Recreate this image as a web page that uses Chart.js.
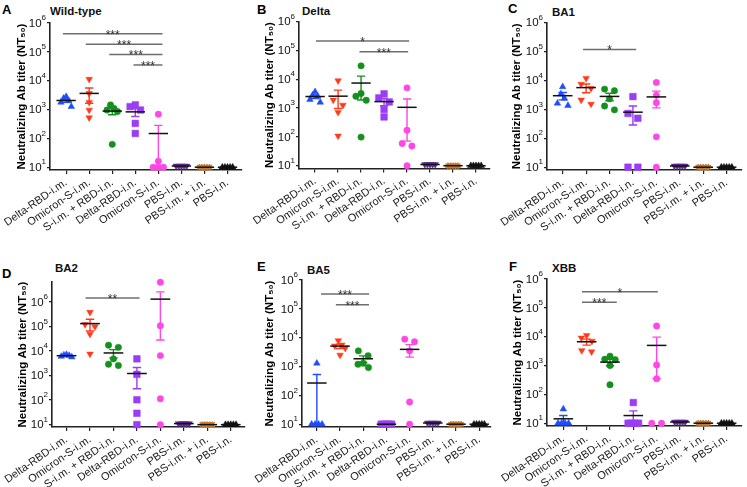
<!DOCTYPE html>
<html>
<head>
<meta charset="utf-8">
<script src="https://cdn.jsdelivr.net/npm/chart.js@4.4.1/dist/chart.umd.min.js"></script>
<style>
  body { margin: 0; background: #fff; }
  #fig { position: relative; width: 747px; height: 487px; overflow: hidden; font-family: 'Liberation Sans', Arial, sans-serif; }
  #fig canvas { position: absolute; }
  .letter { position: absolute; font-weight: bold; font-size: 13px; line-height: 13px; color: #000; }
  .title { position: absolute; font-weight: bold; font-size: 11.5px; line-height: 12px; color: #111; }
</style>
</head>
<body>
<div id="fig"></div>
<script>
// Groups (x categories)
var groups = ['Delta-RBD-i.m.', 'Omicron-S-i.m.', 'S-i.m. + RBD-i.n.', 'Delta-RBD-i.n.', 'Omicron-S-i.n.', 'PBS-i.m.', 'PBS-i.m. + i.n.', 'PBS-i.n.'];

// y axis ticks (10^n)
var yTickValues = [10, 100, 1000, 10000, 100000, 1000000];
var yTickExponents = ['1', '2', '3', '4', '5', '6'];

var panelLetters = ['A', 'B', 'C', 'D', 'E', 'F'];
var panelTitles = ['Wild-type', 'Delta', 'BA1', 'BA2', 'BA5', 'XBB'];
var yAxisTitle = 'Neutralizing Ab titer (NT\u2085\u2080)';

// NT50 per mouse, one row per group
var wildTypeTiters = [
    [2800, 2450, 2000, 1780, 1260],
    [11200, 3640, 1780, 960, 520],
    [1450, 1100, 960, 850, 62],
    [1450, 1260, 960, 330, 148],
    [690, 16, 10, 10, 10],
    [11, 11, 11, 11, 11],
    [10, 10, 10, 10, 10],
    [10, 10, 10, 10, 10]
];
var deltaTiters = [
    [3650, 2770, 2560, 1960, 1580],
    [8900, 1900, 1260, 710, 107],
    [29000, 3200, 2560, 1860, 98],
    [3100, 2240, 1620, 890, 490],
    [5000, 170, 59, 48, 10],
    [11, 11, 11, 11, 11],
    [10, 10, 10, 10, 10],
    [10, 10, 10, 10, 10]
];
var ba1Titers = [
    [6000, 3400, 2400, 1620, 1350],
    [11800, 7400, 5300, 2100, 1520],
    [5000, 4400, 2300, 1300, 960],
    [2750, 720, 490, 10, 10],
    [8500, 3100, 1700, 112, 10],
    [11, 11, 11, 11, 11],
    [10, 10, 10, 10, 10],
    [10, 10, 10, 10, 10]
];
var ba2Titers = [
    [7200, 6800, 6500, 6000, 5700],
    [380000, 121000, 98000, 49000, 7600],
    [17300, 14100, 4800, 2900, 2560],
    [4800, 1120, 103, 29, 10],
    [6400000, 107000, 6500, 113, 10],
    [11, 11, 11, 11, 11],
    [10, 10, 10, 10, 10],
    [10, 10, 10, 10, 10]
];
var ba5Titers = [
    [1300, 10, 10, 10, 10],
    [7900, 5600, 5200, 4300, 2500],
    [3500, 2350, 1300, 1200, 930],
    [10, 10, 10, 10, 10],
    [8900, 7200, 3500, 59, 10],
    [11, 11, 11, 11, 11],
    [10, 10, 10, 10, 10],
    [10, 10, 10, 10, 10]
];
var xbbTiters = [
    [31, 10, 10, 10, 10],
    [11000, 9000, 7000, 3300, 3000],
    [2100, 1650, 1600, 1000, 215],
    [52, 10, 10, 10, 10],
    [23500, 1050, 350, 10, 10],
    [11, 11, 11, 11, 11],
    [10, 10, 10, 10, 10],
    [10, 10, 10, 10, 10]
];

// significance bars: [from group, to group, titer level, label]
var wildTypeSig = [[-0.14, 4.18, 427000, '***'], [0.85, 4.18, 182000, '***'], [1.87, 4.18, 81000, '***'], [2.92, 4.18, 35000, '***']];
var deltaSig = [[0.04, 4.09, 210000, '*'], [1.93, 4.05, 89000, '***']];
var ba1Sig = [[0.87, 3.14, 117000, '*']];
var ba2Sig = [[0.81, 3.11, 1450000, '**']];
var ba5Sig = [[0.18, 2.25, 330000, '***'], [0.82, 2.25, 140000, '***']];
var xbbSig = [[0.8, 4.05, 360000, '*'], [0.8, 2.29, 155000, '***']];

var allTiters = [wildTypeTiters, deltaTiters, ba1Titers, ba2Titers, ba5Titers, xbbTiters];
var allSig = [wildTypeSig, deltaSig, ba1Sig, ba2Sig, ba5Sig, xbbSig];

// styles
var groupColors = ['#1f4cff', '#ff3a1a', '#14901c', '#9b3df5', '#ff47e6', '#5a2a8c', '#c27a32', '#111111'];
var groupShapes = ['triangle', 'triangle', 'circle', 'rect', 'circle', 'triangle', 'star', 'triangle'];
var groupRotation = [0, 180, 0, 0, 0, 180, 0, 0];
var groupRadius = [3.8, 3.8, 3.2, 4.7, 3.2, 3.8, 3.2, 3.8];
var fontFamily = "'Liberation Sans', Arial, sans-serif";

// canvas box, plot area (page px), y-title padding, x range, letter and title positions
var panelBoxes = [
    {canvas: [0, 0, 247, 240], area: [50, 23, 247, 170], padL: 11, xMin: -0.7, xMax: 7.62, yMax: 1e6, letter: [2, 3], title: [50, 4.5]},
    {canvas: [247, 0, 248, 240], area: [299, 21.5, 495, 168.5], padL: 12, xMin: -0.7, xMax: 7.6, yMax: 1e6, letter: [257, 3], title: [302, 4.5]},
    {canvas: [495, 0, 252, 240], area: [547, 22.5, 745, 170], padL: 11, xMin: -0.67, xMax: 7.65, yMax: 1e6, letter: [508, 2], title: [552, 5.5]},
    {canvas: [0, 240, 250, 247], area: [52, 282, 250, 427], padL: 12, xMin: -0.62, xMax: 7.6, yMax: 6.5e6, letter: [2, 267], title: [55, 261.5]},
    {canvas: [250, 240, 246, 247], area: [302, 280, 495, 427], padL: 9, xMin: -0.64, xMax: 7.5, yMax: 1e6, letter: [257, 260], title: [307, 263.5]},
    {canvas: [496, 240, 251, 247], area: [547, 279, 745, 426], padL: 11, xMin: -0.7, xMax: 7.65, yMax: 1e6, letter: [509, 260], title: [552, 261.5]}
];

// spread points that sit at nearly the same height, like a column scatter
function spreadOffsets(vals)
{
    var order = vals.map(function (v, i) { return i; }).sort(function (a, b) { return vals[b] - vals[a]; });
    var offs = vals.map(function () { return 0; });
    var cluster = [];
    function flush() {
        var k = cluster.length;
        if (k > 1) {
            var s = Math.min(0.42, 0.45 / (k - 1));
            var slots = (k % 2) ? [0, -1, 1, -2, 2, -3, 3] : [-0.5, 0.5, -1.5, 1.5, -2.5, 2.5];
            cluster.forEach(function (id, j) { offs[id] = slots[j] * s; });
        }
        cluster = [];
    }
    order.forEach(function (id) {
        if (cluster.length && Math.log10(vals[cluster[cluster.length - 1]]) - Math.log10(vals[id]) >= 0.2) flush();
        cluster.push(id);
    });
    flush();
    return offs;
}

function makeDecorPlugin(titers, sig)
{
    return {
        id: 'decor',
        afterDatasetsDraw: function (chart) {
            var ctx = chart.ctx, x = chart.scales.x, y = chart.scales.y, area = chart.chartArea;
            ctx.save();
            // mean +/- SEM
            titers.forEach(function (vals, i) {
                var n = vals.length;
                var mean = vals.reduce(function (a, v) { return a + v; }, 0) / n;
                var sd = Math.sqrt(vals.reduce(function (a, v) { return a + (v - mean) * (v - mean); }, 0) / (n - 1));
                var sem = sd / Math.sqrt(n);
                var cx = x.getPixelForValue(i);
                if (sem > 0) {
                    var top = y.getPixelForValue(mean + sem);
                    var low = mean - sem;
                    var bottom = low > y.min ? y.getPixelForValue(low) : area.bottom;
                    var cw = x.getPixelForValue(i + 0.18) - cx;
                    ctx.strokeStyle = groupColors[i];
                    ctx.lineWidth = 1.4;
                    ctx.beginPath();
                    ctx.moveTo(cx, top); ctx.lineTo(cx, bottom);
                    ctx.moveTo(cx - cw, top); ctx.lineTo(cx + cw, top);
                    if (low > y.min) { ctx.moveTo(cx - cw, bottom); ctx.lineTo(cx + cw, bottom); }
                    ctx.stroke();
                }
                var mw = x.getPixelForValue(i + 0.42) - cx;
                var my = y.getPixelForValue(mean);
                ctx.strokeStyle = '#111';
                ctx.lineWidth = 1.5;
                ctx.beginPath();
                ctx.moveTo(cx - mw, my); ctx.lineTo(cx + mw, my);
                ctx.stroke();
            });
            // significance bars
            sig.forEach(function (s) {
                var x0 = x.getPixelForValue(s[0]), x1 = x.getPixelForValue(s[1]), py = y.getPixelForValue(s[2]);
                ctx.strokeStyle = '#6e6e6e';
                ctx.lineWidth = 1.5;
                ctx.beginPath();
                ctx.moveTo(x0, py); ctx.lineTo(x1, py);
                ctx.stroke();
                ctx.fillStyle = '#333';
                ctx.font = '12px ' + fontFamily;
                ctx.textAlign = 'center';
                ctx.textBaseline = 'alphabetic';
                ctx.fillText(s[3], (x0 + x1) / 2, py + 5);
            });
            ctx.restore();
        },
        afterDraw: function (chart) {
            // y tick labels as 10 with a raised exponent
            var ctx = chart.ctx, y = chart.scales.y, area = chart.chartArea;
            ctx.save();
            ctx.fillStyle = '#111';
            ctx.textBaseline = 'middle';
            yTickValues.forEach(function (v, k) {
                var py = y.getPixelForValue(v);
                var xr = area.left - 4;
                ctx.font = '8px ' + fontFamily;
                var ew = ctx.measureText(yTickExponents[k]).width;
                ctx.textAlign = 'left';
                ctx.fillText(yTickExponents[k], xr - ew, py - 5);
                ctx.font = '11.5px ' + fontFamily;
                ctx.textAlign = 'right';
                ctx.fillText('10', xr - ew, py + 0.5);
            });
            ctx.restore();
        }
    };
}

function buildPanel(p)
{
    var box = panelBoxes[p];
    var fig = document.getElementById('fig');

    var letter = document.createElement('div');
    letter.className = 'letter';
    letter.style.left = box.letter[0] + 'px';
    letter.style.top = box.letter[1] + 'px';
    letter.textContent = panelLetters[p];
    fig.appendChild(letter);

    var title = document.createElement('div');
    title.className = 'title';
    title.style.left = box.title[0] + 'px';
    title.style.top = box.title[1] + 'px';
    title.textContent = panelTitles[p];
    fig.appendChild(title);

    var canvas = document.createElement('canvas');
    canvas.width = box.canvas[2];
    canvas.height = box.canvas[3];
    canvas.style.left = box.canvas[0] + 'px';
    canvas.style.top = box.canvas[1] + 'px';
    fig.appendChild(canvas);

    var titers = allTiters[p];
    var datasets = groups.map(function (g, i) {
        var offs = spreadOffsets(titers[i]);
        return {
            label: g,
            data: titers[i].map(function (v, j) { return {x: i + offs[j], y: v}; }),
            pointStyle: groupShapes[i],
            pointRadius: groupRadius[i],
            pointRotation: groupRotation[i],
            pointBackgroundColor: groupColors[i],
            pointBorderColor: groupColors[i],
            pointBorderWidth: groupShapes[i] == 'star' ? 1.4 : 0.5,
            pointHoverRadius: groupRadius[i],
            clip: false
        };
    });

    var axisColor = '#222';
    new Chart(canvas, {
        type: 'scatter',
        data: {datasets: datasets},
        options: {
            responsive: false,
            animation: false,
            devicePixelRatio: 1,
            events: [],
            layout: {
                padding: {
                    left: box.padL,
                    top: box.area[1] - box.canvas[1],
                    right: box.canvas[0] + box.canvas[2] - box.area[2],
                    bottom: 0
                }
            },
            plugins: {
                legend: {display: false},
                tooltip: {enabled: false}
            },
            scales: {
                x: {
                    type: 'linear',
                    min: box.xMin,
                    max: box.xMax,
                    afterBuildTicks: function (s) { s.ticks = groups.map(function (g, i) { return {value: i}; }); },
                    afterFit: function (s) {
                        s.height = box.canvas[1] + box.canvas[3] - box.area[3];
                        s.paddingLeft = 0;
                        s.paddingRight = 0;
                    },
                    ticks: {
                        autoSkip: false,
                        minRotation: 35,
                        maxRotation: 35,
                        padding: 2,
                        color: '#1a1a1a',
                        font: {family: fontFamily, size: 11},
                        callback: function (value, index) { return groups[index]; }
                    },
                    grid: {drawOnChartArea: false, drawTicks: true, tickLength: 4, color: axisColor, lineWidth: 1.2},
                    border: {display: true, color: axisColor, width: 1.6}
                },
                y: {
                    type: 'logarithmic',
                    min: 8,
                    max: box.yMax,
                    afterBuildTicks: function (s) { s.ticks = yTickValues.map(function (v) { return {value: v}; }); },
                    afterFit: function (s) { s.width = box.area[0] - box.canvas[0] - box.padL; },
                    ticks: {display: false},
                    grid: {drawOnChartArea: false, drawTicks: true, tickLength: 3, color: axisColor, lineWidth: 1.2},
                    border: {display: true, color: axisColor, width: 1.6},
                    title: {
                        display: true,
                        text: yAxisTitle,
                        color: '#000',
                        padding: {top: 4, bottom: 4},
                        font: {family: fontFamily, size: 11.5, weight: 'bold'}
                    }
                }
            }
        },
        plugins: [makeDecorPlugin(titers, allSig[p])]
    });
}

for (var p = 0; p < 6; ++p) buildPanel(p);
</script>
</body>
</html>
